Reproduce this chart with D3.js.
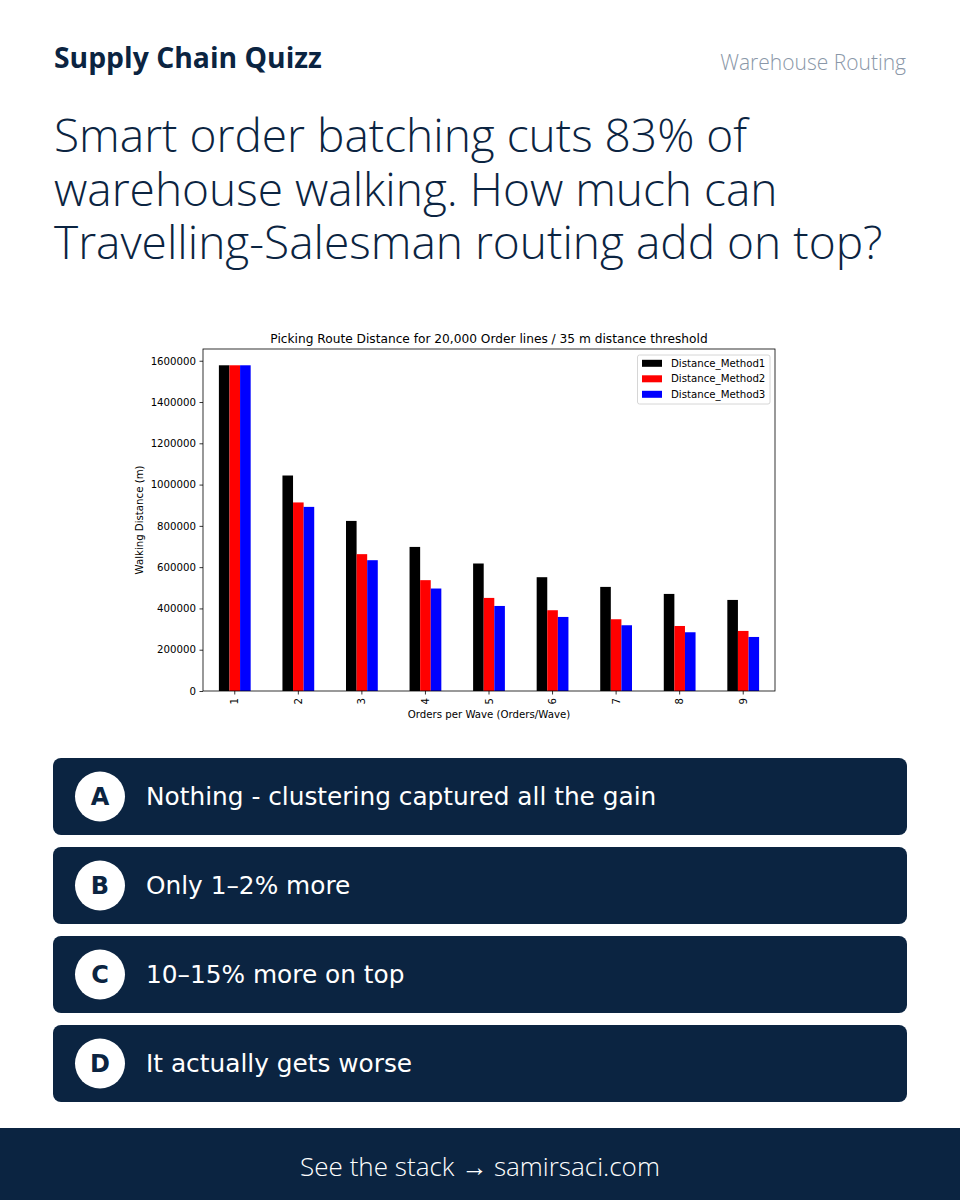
<!DOCTYPE html>
<html>
<head>
<meta charset="utf-8">
<script src="https://cdn.jsdelivr.net/npm/d3@7"></script>
<style>
  html, body { margin: 0; padding: 0; background: #ffffff; }
  svg { display: block; }
</style>
</head>
<body>
<svg id="root" width="960" height="1200"></svg>
<script>
// ---------------- DATA ----------------
const categories = ["1", "2", "3", "4", "5", "6", "7", "8", "9"];
const seriesNames = ["Distance_Method1", "Distance_Method2", "Distance_Method3"];
const method1 = [1578000, 1044000, 824000, 698000, 617700, 551300, 504300, 470300, 441200];
const method2 = [1578000, 913500, 663000, 537000, 451000, 391300, 347600, 315000, 291000];
const method3 = [1578000, 892000, 633700, 496500, 412000, 358800, 318500, 284600, 261800];
const yTicks = [0, 200000, 400000, 600000, 800000, 1000000, 1200000, 1400000, 1600000];
const answerLetters = ["A", "B", "C", "D"];
const answerTexts = [
  "Nothing - clustering captured all the gain",
  "Only 1\u20132% more",
  "10\u201315% more on top",
  "It actually gets worse"
];
const headlineLines = [
  "Smart order batching cuts 83% of",
  "warehouse walking. How much can",
  "Travelling-Salesman routing add on top?"
];
const chartTitle = "Picking Route Distance for 20,000 Order lines / 35 m distance threshold";
const xLabel = "Orders per Wave (Orders/Wave)";
const yLabel = "Walking Distance (m)";

// ---------------- STYLE ----------------
const NAVY = "#0b2441";
const seriesColors = ["#000000", "#ff0000", "#0000ff"];
const chartFont = "'DejaVu Sans', sans-serif";
const headFont = "'Open Sans', 'Noto Sans', sans-serif";

const svg = d3.select("#root");

function fit(sel, target) {
  const node = sel.node();
  const fs = parseFloat(sel.attr("font-size"));
  const w = node.getComputedTextLength();
  if (w > 0) sel.attr("font-size", fs * target / w);
  return sel;
}

// ---------------- HEADER ----------------
fit(svg.append("text").attr("x", 54).attr("y", 68)
  .attr("font-family", headFont).attr("font-weight", 700).attr("font-size", 24)
  .attr("fill", NAVY).text("Supply Chain Quizz"), 268);

fit(svg.append("text").attr("x", 906).attr("y", 70).attr("text-anchor", "end")
  .attr("font-family", headFont).attr("font-weight", 300).attr("font-size", 20)
  .attr("fill", "#8a97a8").text("Warehouse Routing"), 186);

// headline: one text element, three lines
const hlTargets = [691, 717, 839];
const hl = svg.append("text").attr("x", 54).attr("y", 152)
  .attr("font-family", headFont).attr("font-weight", 300).attr("font-size", 44)
  .attr("fill", NAVY);
const spans = headlineLines.map((t, i) =>
  hl.append("tspan").attr("x", 54).attr("y", 152 + i * 53.5).text(t));
(function () {
  const ratios = spans.map((s, i) => hlTargets[i] / s.node().getComputedTextLength());
  hl.attr("font-size", 44 * d3.mean(ratios));
})();

// ---------------- CHART ----------------
const pL = 203, pR = 775, pT = 349, pB = 691;
const data = categories.map((c, i) => ({ cat: c, values: [method1[i], method2[i], method3[i]] }));
const maxVal = d3.max([...method1, ...method2, ...method3]);

const x0 = d3.scaleBand().domain(categories).range([pL, pR])
  .paddingInner(0.5).paddingOuter(0.25);
const x1 = d3.scaleBand().domain(seriesNames).range([0, x0.bandwidth()]).padding(0);
const y = d3.scaleLinear().domain([0, maxVal * 1.05]).range([pB, pT]);

const chart = svg.append("g");

// bars
chart.append("g").selectAll("g").data(data).join("g")
  .attr("transform", d => `translate(${x0(d.cat)},0)`)
  .selectAll("rect").data(d => d.values.map((v, j) => ({ v, j })))
  .join("rect")
  .attr("x", d => x1(seriesNames[d.j]))
  .attr("width", x1.bandwidth())
  .attr("y", d => y(d.v))
  .attr("height", d => y(0) - y(d.v))
  .attr("fill", d => seriesColors[d.j]);

// frame
chart.append("rect").attr("x", pL).attr("y", pT)
  .attr("width", pR - pL).attr("height", pB - pT)
  .attr("fill", "none").attr("stroke", "#000").attr("stroke-width", 0.8);

// y axis
const yAxis = chart.append("g").attr("transform", `translate(${pL},0)`)
  .call(d3.axisLeft(y).tickValues(yTicks).tickFormat(d3.format("d"))
    .tickSize(3.5).tickPadding(3.5));
yAxis.select(".domain").remove();
yAxis.selectAll("line").attr("stroke", "#000").attr("stroke-width", 0.8);
yAxis.selectAll("text").attr("font-family", chartFont).attr("font-size", 10.2).attr("fill", "#000");

// x axis
const xAxis = chart.append("g").attr("transform", `translate(0,${pB})`)
  .call(d3.axisBottom(x0).tickSize(3.5).tickPadding(3.5));
xAxis.select(".domain").remove();
xAxis.selectAll("line").attr("stroke", "#000").attr("stroke-width", 0.8);
xAxis.selectAll("text")
  .attr("font-family", chartFont).attr("font-size", 10.2).attr("fill", "#000")
  .attr("transform", "rotate(-90)")
  .attr("text-anchor", "end")
  .attr("dy", "0.35em")
  .attr("x", -7).attr("y", 0);

// title
chart.append("text").attr("x", (pL + pR) / 2).attr("y", 342.5)
  .attr("text-anchor", "middle").attr("font-family", chartFont).attr("font-size", 12.2)
  .attr("fill", "#000").text(chartTitle);

// axis labels
chart.append("text").attr("x", (pL + pR) / 2).attr("y", 717.5)
  .attr("text-anchor", "middle").attr("font-family", chartFont).attr("font-size", 10.2)
  .attr("fill", "#000").text(xLabel);
chart.append("text")
  .attr("transform", `translate(143,${(pT + pB) / 2}) rotate(-90)`)
  .attr("text-anchor", "middle").attr("font-family", chartFont).attr("font-size", 10.2)
  .attr("fill", "#000").text(yLabel);

// legend
const lg = chart.append("g");
lg.append("rect").attr("x", 637.5).attr("y", 355).attr("width", 132.5).attr("height", 49)
  .attr("rx", 2).attr("fill", "#fff").attr("fill-opacity", 0.8)
  .attr("stroke", "#cccccc").attr("stroke-width", 0.8);
seriesNames.forEach((name, i) => {
  const cy = 363.3 + i * 15.5;
  lg.append("rect").attr("x", 642).attr("y", cy - 3.5).attr("width", 20).attr("height", 7)
    .attr("fill", seriesColors[i]);
  lg.append("text").attr("x", 671).attr("y", cy).attr("dy", "0.35em")
    .attr("font-family", chartFont).attr("font-size", 10.2).attr("fill", "#000").text(name);
});

// ---------------- ANSWERS ----------------
const boxTops = [758, 847, 936, 1025];
const ans = svg.append("g").selectAll("g").data(answerLetters).join("g")
  .attr("transform", (d, i) => `translate(53,${boxTops[i]})`);
ans.append("rect").attr("width", 854).attr("height", 77).attr("rx", 8).attr("fill", NAVY);
ans.append("circle").attr("cx", 47).attr("cy", 38.5).attr("r", 25).attr("fill", "#ffffff");
ans.append("text").attr("x", 47).attr("y", 38.5).attr("dy", "0.36em").attr("text-anchor", "middle")
  .attr("font-family", "'DejaVu Sans', sans-serif").attr("font-weight", 700).attr("font-size", 24)
  .attr("fill", NAVY).text(d => d);
ans.append("text").attr("x", 93).attr("y", 38.5).attr("dy", "0.36em")
  .attr("font-family", "'DejaVu Sans', sans-serif").attr("font-size", 24.8)
  .attr("fill", "#ffffff").text((d, i) => answerTexts[i]);

// ---------------- FOOTER ----------------
svg.append("rect").attr("x", 0).attr("y", 1128).attr("width", 960).attr("height", 72).attr("fill", NAVY);
fit(svg.append("text").attr("x", 480).attr("y", 1176).attr("text-anchor", "middle")
  .attr("font-family", headFont).attr("font-weight", 300).attr("font-size", 24)
  .attr("fill", "#ffffff").text("See the stack \u2192 samirsaci.com"), 360);
</script>
</body>
</html>
